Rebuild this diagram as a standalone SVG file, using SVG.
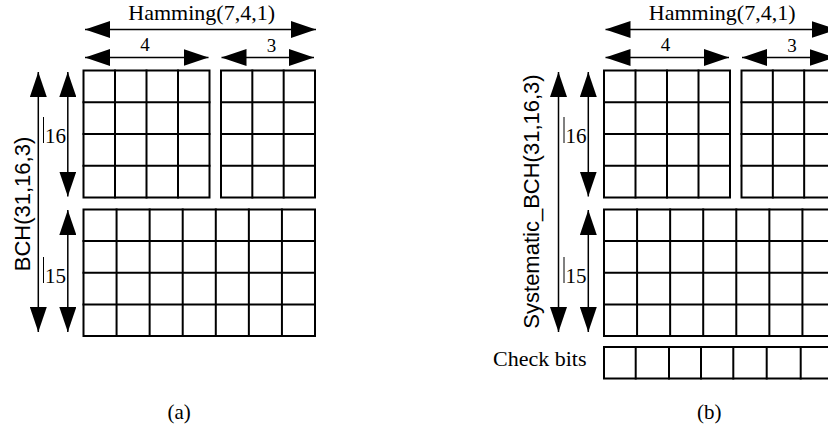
<svg xmlns="http://www.w3.org/2000/svg" width="828" height="431" viewBox="0 0 828 431">
  <style>
    .grid { fill: none; stroke: #000; stroke-width: 2; stroke-linecap: square; }
    .dim { fill: none; stroke: #000; stroke-width: 1.5; marker-start: url(#head); marker-end: url(#head); }
    text.serif { font-family: 'Liberation Serif', Times, 'Times New Roman', 'DejaVu Serif', serif; fill: #000; }
    text.sans { font-family: 'Liberation Sans', Arial, sans-serif; fill: #000; font-size: 22px; }
    .tick { stroke: #000; stroke-width: 1; }
  </style>
  <defs>
    <marker id="head" markerUnits="userSpaceOnUse" markerWidth="25" markerHeight="17" refX="25" refY="8.5" orient="auto-start-reverse">
      <path d="M0,0 L25,8.5 L0,17 Z" fill="#000"/>
    </marker>
  </defs>
  <rect width="828" height="431" fill="#fff"/>

  <!-- Panel (a) -->
  <g id="panel-a">
    <g id="a-info-grid">
      <rect class="grid" x="83.5" y="70.5" width="126" height="127"/>
      <path class="grid" d="M115 70.5V197.5M146.5 70.5V197.5M178 70.5V197.5M83.5 102.25H209.5M83.5 134H209.5M83.5 165.75H209.5"/>
    </g>
    <g id="a-parity-grid">
      <rect class="grid" x="221" y="70.5" width="94" height="127"/>
      <path class="grid" d="M252.33 70.5V197.5M283.67 70.5V197.5M221 102.25H315M221 134H315M221 165.75H315"/>
    </g>
    <g id="a-lower-grid">
      <rect class="grid" x="83.5" y="209.5" width="231.5" height="126.5"/>
      <path class="grid" d="M116.57 209.5V336M149.64 209.5V336M182.71 209.5V336M215.79 209.5V336M248.86 209.5V336M281.93 209.5V336M83.5 241.1H315M83.5 272.75H315M83.5 304.4H315"/>
    </g>
    <g id="a-labels">
      <text class="serif" font-family="'Liberation Serif', serif" x="201.7" y="20" font-size="22" text-anchor="middle">Hamming(7,4,1)</text>
      <text class="serif" font-family="'Liberation Serif', serif" x="145" y="51" font-size="19" text-anchor="middle">4</text>
      <text class="serif" font-family="'Liberation Serif', serif" x="271.5" y="52" font-size="19" text-anchor="middle">3</text>
      <text class="serif" font-family="'Liberation Serif', serif" x="45" y="142.5" font-size="21">16</text>
      <text class="serif" font-family="'Liberation Serif', serif" x="45" y="282.5" font-size="21">15</text>
      <line class="tick" x1="43.5" y1="117" x2="43.5" y2="143"/>
      <line class="tick" x1="43.5" y1="257" x2="43.5" y2="283"/>
      <text class="sans" transform="translate(30 204) rotate(-90)" text-anchor="middle">BCH(31,16,3)</text>
      <text class="serif" font-family="'Liberation Serif', serif" x="179.2" y="418.5" font-size="21" text-anchor="middle">(a)</text>
    </g>
  </g>

  <!-- Panel (b): same layout shifted right, plus a check-bit row -->
  <g id="panel-b">
    <g id="b-info-grid" transform="translate(520.5 0)">
      <rect class="grid" x="83.5" y="70.5" width="126" height="127"/>
      <path class="grid" d="M115 70.5V197.5M146.5 70.5V197.5M178 70.5V197.5M83.5 102.25H209.5M83.5 134H209.5M83.5 165.75H209.5"/>
    </g>
    <g id="b-parity-grid" transform="translate(520.5 0)">
      <rect class="grid" x="221" y="70.5" width="94" height="127"/>
      <path class="grid" d="M252.33 70.5V197.5M283.67 70.5V197.5M221 102.25H315M221 134H315M221 165.75H315"/>
    </g>
    <g id="b-lower-grid" transform="translate(520.5 0)">
      <rect class="grid" x="83.5" y="209.5" width="231.5" height="126.5"/>
      <path class="grid" d="M116.57 209.5V336M149.64 209.5V336M182.71 209.5V336M215.79 209.5V336M248.86 209.5V336M281.93 209.5V336M83.5 241.1H315M83.5 272.75H315M83.5 304.4H315"/>
    </g>
    <g id="b-check-bits" transform="translate(520.5 0)">
      <rect class="grid" x="83.5" y="347" width="231.5" height="31.5"/>
      <path class="grid" d="M115.2 347V378.5M148.5 347V378.5M180.5 347V378.5M212.8 347V378.5M246.2 347V378.5M280.2 347V378.5"/>
    </g>
    <g id="b-labels">
      <text class="serif" font-family="'Liberation Serif', serif" x="722.2" y="20" font-size="22" text-anchor="middle">Hamming(7,4,1)</text>
      <text class="serif" font-family="'Liberation Serif', serif" x="665.5" y="51" font-size="19" text-anchor="middle">4</text>
      <text class="serif" font-family="'Liberation Serif', serif" x="792" y="52" font-size="19" text-anchor="middle">3</text>
      <text class="serif" font-family="'Liberation Serif', serif" x="565.5" y="142.5" font-size="21">16</text>
      <text class="serif" font-family="'Liberation Serif', serif" x="565.5" y="282.5" font-size="21">15</text>
      <line class="tick" x1="564" y1="117" x2="564" y2="143"/>
      <line class="tick" x1="564" y1="257" x2="564" y2="283"/>
      <text class="sans" transform="translate(538.5 201.5) rotate(-90)" text-anchor="middle">Systematic_BCH(31,16,3)</text>
      <text class="serif" font-family="'Liberation Serif', serif" x="493" y="366" font-size="22">Check bits</text>
      <text class="serif" font-family="'Liberation Serif', serif" x="709.2" y="418.5" font-size="21" text-anchor="middle">(b)</text>
    </g>
  </g>

  <!-- Dimension arrows -->
  <g id="connectors">
    <line class="dim" x1="85" y1="29.5" x2="316" y2="29.5"/>
    <line class="dim" x1="85" y1="57.5" x2="208.5" y2="57.5"/>
    <line class="dim" x1="221.5" y1="57.5" x2="314" y2="57.5"/>
    <line class="dim" x1="38.3" y1="72" x2="38.3" y2="332"/>
    <line class="dim" x1="67.8" y1="72" x2="67.8" y2="196.5"/>
    <line class="dim" x1="67.8" y1="210" x2="67.8" y2="332"/>

    <line class="dim" x1="605.5" y1="29.5" x2="836.5" y2="29.5"/>
    <line class="dim" x1="605.5" y1="57.5" x2="729" y2="57.5"/>
    <line class="dim" x1="742" y1="57.5" x2="834.5" y2="57.5"/>
    <line class="dim" x1="558.5" y1="72" x2="558.5" y2="332"/>
    <line class="dim" x1="588.3" y1="72" x2="588.3" y2="196.5"/>
    <line class="dim" x1="588.3" y1="210" x2="588.3" y2="332"/>
  </g>
</svg>
